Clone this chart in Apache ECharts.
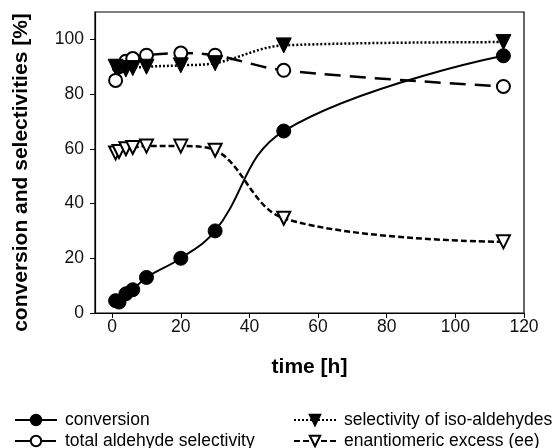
<!DOCTYPE html>
<html><head><meta charset="utf-8">
<script src="https://cdn.jsdelivr.net/npm/echarts@6/dist/echarts.min.js"></script>
<style>html,body{margin:0;padding:0;background:#fff}#c{width:558px;height:448px}</style>
</head><body><div id="c"></div>
<script>
const times = [1, 2, 4, 6, 10, 20, 30, 50, 114];
const conversion = [4.5, 4, 7, 8.5, 13, 20, 30, 66.5, 94];
const totalAldehyde = [85, 90, 92, 93, 94.2, 95, 94.2, 88.7, 82.8];
const isoSelectivity = [90, 89.5, 89, 89.5, 90, 90.5, 91.3, 97.8, 99];
const eeValues = [58.5, 59, 60, 60.5, 61, 61, 59.5, 34.6, 26];
const xTicks = [0, 20, 40, 60, 80, 100, 120];
const yTicks = [0, 20, 40, 60, 80, 100];
const names = ['conversion', 'total aldehyde selectivity', 'selectivity of iso-aldehydes', 'enantiomeric excess (ee)'];

const pairs = v => times.map((t, i) => [t, v[i]]);
const FONT = '"Liberation Sans", Arial, sans-serif';

const chart = echarts.init(document.getElementById('c'), null, {renderer: 'canvas'});
const legendItem = (name, left, top) => ({data: [name], orient: 'horizontal', left: left, top: top,
  itemWidth: 42, itemHeight: 13, padding: 0,
  textStyle: {fontFamily: FONT, fontSize: 17.5, lineHeight: 17, color: '#000', padding: [0, 0, 0, 3]}});
chart.setOption({
  animation: false,
  backgroundColor: '#fff',
  grid: {left: 95, right: 34, top: 12, bottom: 135, show: true, borderColor: '#000', borderWidth: 1.2, backgroundColor: 'transparent'},
  xAxis: {
    type: 'value', min: -5, max: 120, interval: 20,
    name: 'time [h]', nameLocation: 'middle', nameGap: 44,
    nameTextStyle: {fontFamily: FONT, fontSize: 21, fontWeight: 'bold', color: '#000'},
    axisLine: {show: true, onZero: false, lineStyle: {color: '#000', width: 1.2}},
    axisTick: {show: true, length: 5, lineStyle: {color: '#000'}, customValues: xTicks},
    axisLabel: {fontFamily: FONT, fontSize: 17.5, color: '#111', margin: 5, customValues: xTicks},
    splitLine: {show: false}
  },
  yAxis: {
    type: 'value', min: 0, max: 110,
    name: 'conversion and selectivities [%]', nameLocation: 'middle', nameGap: 63,
    nameTextStyle: {fontFamily: FONT, fontSize: 21, fontWeight: 'bold', color: '#000', padding: [0, 20, 0, 0]},
    axisLine: {show: true, onZero: false, lineStyle: {color: '#000', width: 1.2}},
    axisTick: {show: true, length: 5, lineStyle: {color: '#000'}, customValues: yTicks},
    axisLabel: {fontFamily: FONT, fontSize: 17.5, color: '#111', margin: 11, customValues: yTicks},
    splitLine: {show: false}
  },
  legend: [
    legendItem(names[0], 14, 411),
    legendItem(names[1], 14, 432),
    legendItem(names[2], 293, 411),
    legendItem(names[3], 293, 432)
  ],
  series: [
    {name: names[3], type: 'line', data: pairs(eeValues), smooth: 0.35,
     symbol: 'triangle', symbolRotate: 180, symbolSize: 13,
     itemStyle: {color: '#fff', borderColor: '#000', borderWidth: 2},
     lineStyle: {color: '#000', width: 2.5, type: [6, 3]}, z: 2},
    {name: names[1], type: 'line', data: pairs(totalAldehyde), smooth: 0.35,
     symbol: 'circle', symbolSize: 13,
     itemStyle: {color: '#fff', borderColor: '#000', borderWidth: 2},
     lineStyle: {color: '#000', width: 2.5, type: [16, 9]}, z: 3},
    {name: names[2], type: 'line', data: pairs(isoSelectivity), smooth: 0.35,
     symbol: 'triangle', symbolRotate: 180, symbolSize: 15,
     itemStyle: {color: '#000', borderColor: '#000', borderWidth: 1},
     lineStyle: {color: '#000', width: 2.5, type: [2, 2]}, z: 4},
    {name: names[0], type: 'line', data: pairs(conversion), smooth: 0.4,
     symbol: 'circle', symbolSize: 14,
     itemStyle: {color: '#000', borderColor: '#000', borderWidth: 1},
     lineStyle: {color: '#000', width: 2}, z: 5}
  ]
});
</script></body></html>
